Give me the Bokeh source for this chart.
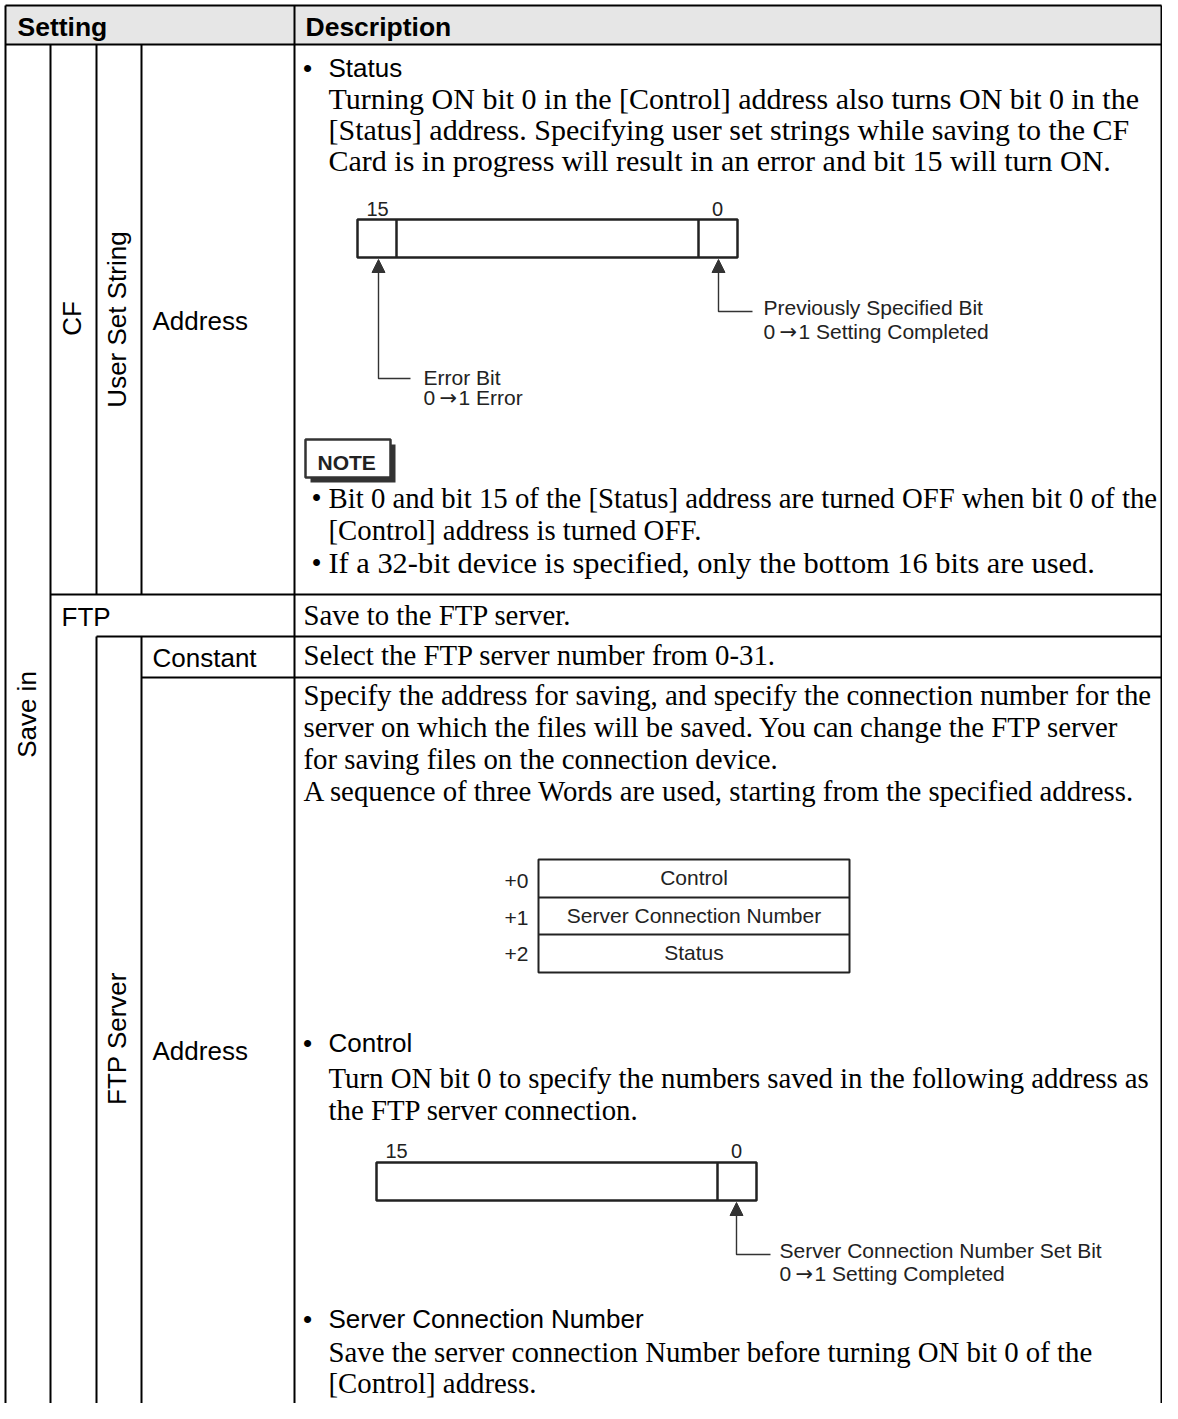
from bokeh.plotting import figure
from bokeh.models import Range1d
from bokeh.core.properties import value
from bokeh.embed import file_html
from bokeh.resources import INLINE
import math

# ---------------- content ----------------
header_labels = ["Setting", "Description"]
col1_label = "Save in"
col2_labels = ["CF", "FTP"]
col3_labels = ["User Set String", "FTP Server"]
col4_labels = ["Address", "Constant", "Address"]

status_title = "Status"
status_lines = [
    "Turning ON bit 0 in the [Control] address also turns ON bit 0 in the",
    "[Status] address. Specifying user set strings while saving to the CF",
    "Card is in progress will result in an error and bit 15 will turn ON.",
]
bit_numbers = ["15", "0"]
error_bit_lines = ["Error Bit", "0 \u21921 Error"]
prev_bit_lines = ["Previously Specified Bit", "0 \u21921 Setting Completed"]
note_label = "NOTE"
note_items = [
    ["Bit 0 and bit 15 of the [Status] address are turned OFF when bit 0 of the",
     "[Control] address is turned OFF."],
    ["If a 32-bit device is specified, only the bottom 16 bits are used."],
]
ftp_desc = "Save to the FTP server."
constant_desc = "Select the FTP server number from 0-31."
address_lines = [
    "Specify the address for saving, and specify the connection number for the",
    "server on which the files will be saved. You can change the FTP server",
    "for saving files on the connection device.",
    "A sequence of three Words are used, starting from the specified address.",
]
word_offsets = ["+0", "+1", "+2"]
word_names = ["Control", "Server Connection Number", "Status"]
control_title = "Control"
control_lines = [
    "Turn ON bit 0 to specify the numbers saved in the following address as",
    "the FTP server connection.",
]
set_bit_lines = ["Server Connection Number Set Bit", "0 \u21921 Setting Completed"]
scn_title = "Server Connection Number"
scn_lines = [
    "Save the server connection Number before turning ON bit 0 of the",
    "[Control] address.",
]

# ---------------- layout / style ----------------
SANS = "Liberation Sans"
SERIF = "Liberation Serif"
ARROW_FONT = "DejaVu Sans"
SERIF_PX = 28.8
SANS_PX = 26
DIAG_PX = 21
INK = "#222222"

W, H = 1162, 1403
p = figure(width=W, height=H, x_range=Range1d(0, W), y_range=Range1d(H, 0),
           output_backend="svg", toolbar_location=None, x_axis_type=None, y_axis_type=None,
           min_border=0, min_border_left=0, min_border_right=0, min_border_top=0,
           min_border_bottom=0)
p.outline_line_color = None
p.background_fill_color = "white"
p.border_fill_color = "white"


def txt(x, y, s, font=SERIF, px=SERIF_PX, style="normal", align="left",
        baseline="alphabetic", angle=0.0, color="#000000"):
    yy = y
    if baseline == "alphabetic":
        yy = y - 0.215 * px   # place the visual baseline at y
    p.text(x=[x], y=[yy], text=[s], text_font=value(font), text_font_size="%.1fpx" % px,
           text_font_style=style, text_align=align, text_baseline=baseline,
           angle=angle, text_color=color)


def arrow_txt(x, y, s, px=DIAG_PX, color=INK):
    left, right = s.split("\u2192")
    txt(x, y, left.strip(), font=SANS, px=px, color=color)
    txt(x + 16, y, "\u2192", font=ARROW_FONT, px=px, color=color)
    txt(x + 35, y, right, font=SANS, px=px, color=color)


def seg(x0, y0, x1, y1, w=2.0, color="#000000"):
    p.line([x0, x1], [y0, y1], line_width=w, line_color=color)


def arrow_up(x, tip_y, bottom_y, end_x, color="#333333"):
    p.patches([[x - 6.5, x, x + 6.5]], [[tip_y + 14, tip_y + 1, tip_y + 14]],
              fill_color=color, line_color=color, line_width=1)
    p.line([x, x, end_x], [tip_y + 12, bottom_y, bottom_y], line_width=1.4,
           line_color=color)


# ---------------- table frame ----------------
L, R = 5, W - 1
TOP, HB = 5, 44
BOT = H + 20
p.quad(left=[L], right=[R], top=[TOP], bottom=[HB], fill_color="#e6e6e6", line_color=None)
seg(L, TOP, R, TOP)
seg(L, HB, R, HB)
seg(L, TOP, L, BOT)
seg(294, TOP, 294, BOT)
seg(R, TOP, R, BOT)
seg(50, HB, 50, BOT)
for cx in (96, 141):
    seg(cx, HB, cx, 594)
    seg(cx, 636, cx, BOT)
seg(50, 594, R, 594)
seg(96, 636, R, 636)
seg(141, 677, R, 677)

# header labels
txt(17, 32, header_labels[0], font=SANS, px=26.5, style="bold")
txt(305, 32, header_labels[1], font=SANS, px=26.5, style="bold")

# left labels
txt(26, 714, col1_label, font=SANS, px=SANS_PX, align="center", baseline="middle",
    angle=math.pi / 2)
txt(71, 318, col2_labels[0], font=SANS, px=SANS_PX, align="center", baseline="middle",
    angle=math.pi / 2)
txt(61, 622, col2_labels[1], font=SANS, px=SANS_PX)
txt(116, 319, col3_labels[0], font=SANS, px=SANS_PX, align="center", baseline="middle",
    angle=math.pi / 2)
txt(116, 1038, col3_labels[1], font=SANS, px=SANS_PX, align="center", baseline="middle",
    angle=math.pi / 2)
txt(152, 326, col4_labels[0], font=SANS, px=SANS_PX)
txt(152, 663, col4_labels[1], font=SANS, px=SANS_PX)
txt(152, 1056, col4_labels[2], font=SANS, px=SANS_PX)

# ---------------- CF / Address ----------------
txt(307, 73, "\u2022", font=SANS, px=SANS_PX, align="center")
txt(328, 73, status_title, font=SANS, px=SANS_PX)
status_base = [104, 135, 166]
for s, b in zip(status_lines, status_base):
    txt(328, b, s, px=30)

# bit diagram 1
p.quad(left=[357], right=[737], top=[219], bottom=[257], fill_color="white",
       line_color=INK, line_width=2.5)
seg(396, 219, 396, 257, w=2.5, color=INK)
seg(698, 219, 698, 257, w=2.5, color=INK)
txt(377, 213, bit_numbers[0], font=SANS, px=20, align="center", color=INK)
txt(717, 213, bit_numbers[1], font=SANS, px=20, align="center", color=INK)
arrow_up(378, 258, 378, 410)
txt(423, 382, error_bit_lines[0], font=SANS, px=DIAG_PX, color=INK)
arrow_txt(423, 402, error_bit_lines[1])
arrow_up(718, 258, 311, 752)
txt(763, 312, prev_bit_lines[0], font=SANS, px=DIAG_PX, color=INK)
arrow_txt(763, 336, prev_bit_lines[1])

# NOTE box
p.quad(left=[310], right=[395], top=[444], bottom=[482], fill_color="#333333", line_color=None)
p.quad(left=[305], right=[390], top=[439], bottom=[477], fill_color="white",
       line_color="#333333", line_width=2.5)
txt(317, 467, note_label, font=SANS, px=21, style="bold", color=INK)

note_base = [[504, 536], [569]]
note_px = [[28.8, 28.8], [30.4]]
for item, bases, sizes in zip(note_items, note_base, note_px):
    txt(316, bases[0], "\u2022", align="center")
    for s, b, fs in zip(item, bases, sizes):
        txt(328, b, s, px=fs)

# ---------------- FTP rows ----------------
txt(303, 621, ftp_desc)
txt(303, 661, constant_desc)
address_base = [701, 733, 765, 797]
for s, b in zip(address_lines, address_base):
    txt(303, b, s)

# word table
WL, WR = 538, 849
rows = [859, 897, 934, 972]
word_base = [882, 920, 957]
offset_base = [885, 922, 958]
p.quad(left=[WL], right=[WR], top=[rows[0]], bottom=[rows[-1]], fill_color="white",
       line_color=INK, line_width=2)
for ry in rows[1:-1]:
    seg(WL, ry, WR, ry, w=2, color=INK)
for i in range(3):
    txt(528, offset_base[i], word_offsets[i], font=SANS, px=DIAG_PX, align="right", color=INK)
    txt((WL + WR) / 2, word_base[i], word_names[i], font=SANS, px=DIAG_PX, align="center",
        color=INK)

# Control
txt(307, 1048, "\u2022", font=SANS, px=SANS_PX, align="center")
txt(328, 1048, control_title, font=SANS, px=SANS_PX)
control_base = [1084, 1116]
for s, b in zip(control_lines, control_base):
    txt(328, b, s)

# bit diagram 2
p.quad(left=[376], right=[756], top=[1162], bottom=[1200], fill_color="white",
       line_color=INK, line_width=2.5)
seg(717, 1162, 717, 1200, w=2.5, color=INK)
txt(396, 1155, bit_numbers[0], font=SANS, px=20, align="center", color=INK)
txt(736, 1155, bit_numbers[1], font=SANS, px=20, align="center", color=INK)
arrow_up(736, 1201, 1254, 770)
txt(779, 1255, set_bit_lines[0], font=SANS, px=DIAG_PX, color=INK)
arrow_txt(779, 1278, set_bit_lines[1])

# Server Connection Number
txt(307, 1324, "\u2022", font=SANS, px=SANS_PX, align="center")
txt(328, 1324, scn_title, font=SANS, px=SANS_PX)
scn_base = [1358, 1389]
for s, b in zip(scn_lines, scn_base):
    txt(328, b, s)

open("out.html", "w").write(file_html(p, INLINE))
